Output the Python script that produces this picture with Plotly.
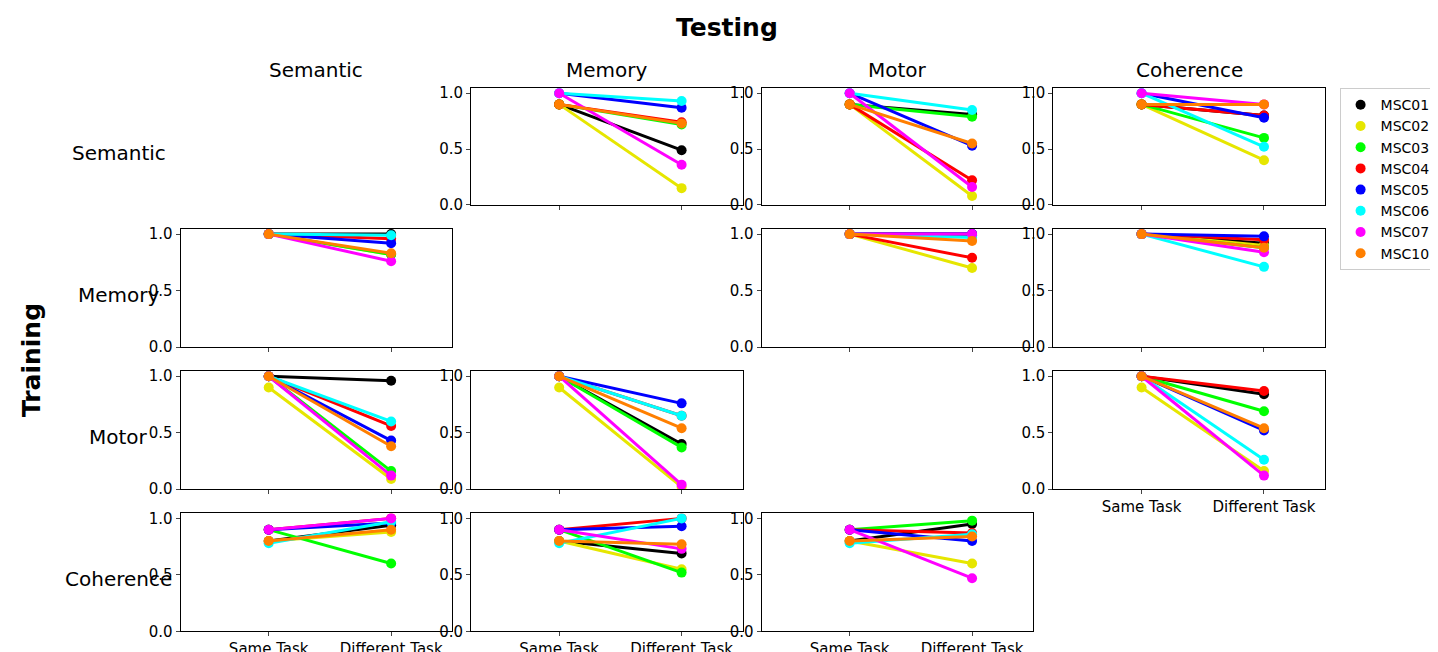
import plotly.graph_objects as go

subjects = ["MSC01", "MSC02", "MSC03", "MSC04", "MSC05", "MSC06", "MSC07", "MSC10"]
colors = ["#000000", "#e6e600", "#00ff00", "#ff0000", "#0000ff", "#00ffff", "#ff00ff", "#ff7f00"]
tasks = ["Semantic", "Memory", "Motor", "Coherence"]
conds = ["Same Task", "Different Task"]

# (training, testing) -> (same task values, different task values), subject order as above
same_sem = [0.9, 0.9, 0.9, 0.9, 1.0, 1.0, 1.0, 0.9]
same_mem = [1.0] * 8
same_mot = [1.0, 0.9, 1.0, 1.0, 1.0, 1.0, 1.0, 1.0]
same_coh = [0.8, 0.8, 0.9, 0.9, 0.9, 0.78, 0.9, 0.8]

diff_sem_mem = [0.49, 0.15, 0.72, 0.74, 0.87, 0.93, 0.36, 0.73]
diff_sem_mot = [0.81, 0.08, 0.79, 0.22, 0.53, 0.85, 0.16, 0.55]
diff_sem_coh = [0.80, 0.40, 0.60, 0.80, 0.78, 0.52, 0.90, 0.90]
diff_mem_sem = [1.0, 0.82, 0.82, 0.96, 0.92, 0.99, 0.76, 0.83]
diff_mem_mot = [1.0, 0.70, 0.99, 0.79, 1.0, 0.97, 1.0, 0.94]
diff_mem_coh = [0.92, 0.90, 0.88, 0.95, 0.98, 0.71, 0.84, 0.88]
diff_mot_sem = [0.96, 0.09, 0.16, 0.56, 0.43, 0.60, 0.12, 0.38]
diff_mot_mem = [0.40, 0.02, 0.37, 0.65, 0.76, 0.65, 0.04, 0.54]
diff_mot_coh = [0.84, 0.16, 0.69, 0.87, 0.52, 0.26, 0.12, 0.54]
diff_coh_sem = [0.94, 0.88, 0.60, 1.0, 0.96, 0.97, 1.0, 0.90]
diff_coh_mem = [0.69, 0.55, 0.52, 1.0, 0.93, 1.0, 0.73, 0.77]
diff_coh_mot = [0.95, 0.60, 0.98, 0.87, 0.80, 0.86, 0.47, 0.84]

panels = {
    (0, 1): (same_sem, diff_sem_mem), (0, 2): (same_sem, diff_sem_mot), (0, 3): (same_sem, diff_sem_coh),
    (1, 0): (same_mem, diff_mem_sem), (1, 2): (same_mem, diff_mem_mot), (1, 3): (same_mem, diff_mem_coh),
    (2, 0): (same_mot, diff_mot_sem), (2, 1): (same_mot, diff_mot_mem), (2, 3): (same_mot, diff_mot_coh),
    (3, 0): (same_coh, diff_coh_sem), (3, 1): (same_coh, diff_coh_mem), (3, 2): (same_coh, diff_coh_mot),
}

col_dom = [(0.120, 0.309), (0.322, 0.511), (0.524, 0.713), (0.727, 0.916)]
row_dom = [(0.044, 0.225), (0.262, 0.443), (0.480, 0.661), (0.698, 0.877)][::-1]

fig = go.Figure()
layout = {}
font = dict(family="DejaVu Sans", color="black")
k = 0
for (r, c), (same, diff) in panels.items():
    k += 1
    xa = "x" if k == 1 else f"x{k}"
    ya = "y" if k == 1 else f"y{k}"
    for i, s in enumerate(subjects):
        fig.add_trace(go.Scatter(
            x=conds, y=[same[i], diff[i]], mode="lines+markers", name=s,
            line=dict(color=colors[i], width=3), marker=dict(color=colors[i], size=10),
            xaxis=xa, yaxis=ya, showlegend=False))
    bottom = (r == 3) or (r == 2 and c == 3)
    layout["xaxis" if k == 1 else f"xaxis{k}"] = dict(
        domain=col_dom[c], anchor=ya, range=[-0.72, 1.5], showline=True, linecolor="black",
        mirror=True, ticks="outside", ticklen=4, showgrid=False, showticklabels=bottom,
        tickfont=dict(size=15, **font), type="category", automargin=False)
    layout["yaxis" if k == 1 else f"yaxis{k}"] = dict(
        domain=row_dom[r], anchor=xa, range=[0, 1.045], showline=True, linecolor="black",
        mirror=True, ticks="outside", ticklen=4, showgrid=False, zeroline=False, automargin=False,
        tickvals=[0, 0.5, 1.0], ticktext=["0.0", "0.5", "1.0"], tickfont=dict(size=15, **font))

# legend entries: markers only
for i, s in enumerate(subjects):
    fig.add_trace(go.Scatter(x=[None], y=[None], mode="markers", name=s,
                             marker=dict(color=colors[i], size=10), xaxis="x", yaxis="y"))

annotations = [dict(text="<b>Testing</b>", x=0.5, y=0.995, xref="paper", yref="paper",
                    showarrow=False, font=dict(size=25, **font), xanchor="center", yanchor="top"),
               dict(text="<b>Training</b>", x=0.016, y=0.46, xref="paper", yref="paper",
                    showarrow=False, textangle=-90, font=dict(size=25, **font), xanchor="center")]
for c, t in enumerate(tasks):
    annotations.append(dict(text=t, x=sum(col_dom[c]) / 2, y=0.883, xref="paper", yref="paper",
                            showarrow=False, xanchor="center", yanchor="bottom", font=dict(size=20, **font)))
for r, t in enumerate(tasks):
    annotations.append(dict(text=t, x=0.077, y=sum(row_dom[r]) / 2 - 0.01, xref="paper", yref="paper",
                            showarrow=False, xanchor="center", yanchor="middle", font=dict(size=20, **font)))

fig.update_layout(
    width=1438, height=652, margin=dict(l=0, r=0, t=0, b=0, autoexpand=False),
    plot_bgcolor="white", paper_bgcolor="white", annotations=annotations,
    legend=dict(x=0.926, y=0.877, xanchor="left", yanchor="top", bordercolor="#cccccc",
                borderwidth=1, font=dict(size=14, **font), tracegroupgap=0),
    **layout)
fig.write_html("out.html")
